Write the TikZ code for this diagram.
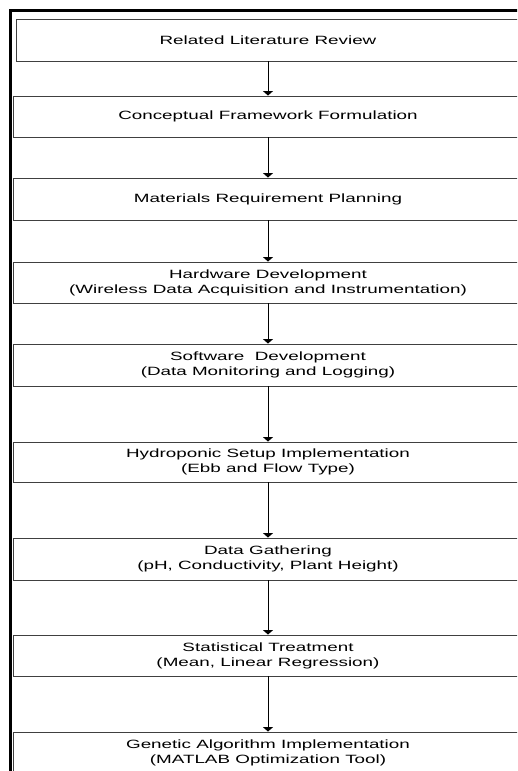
\documentclass[tikz,border=0pt]{standalone}
\usepackage{fontspec}
\newfontfamily\widesans[FakeStretch=1.57]{Liberation Sans}
\usetikzlibrary{arrows.meta}
\tikzset{
  stepbox/.style={draw=black!75, line width=0.9pt, rectangle, inner sep=0pt,
    minimum width=510pt, minimum height=41pt, align=center,
    font=\widesans\fontsize{12}{15}\selectfont},
  flow/.style={draw=black, line width=1pt, -{Triangle[width=10pt,length=4.5pt]}}
}
\begin{document}
\begin{tikzpicture}[x=1pt,y=-1pt]
\useasboundingbox (0,0) rectangle (517,771);
\clip (0,0) rectangle (517,771);
\draw[line width=2.4pt] (10.5,800) -- (10.5,10.5) -- (540,10.5);
\node[stepbox, minimum width=504pt, minimum height=42pt] (b1) at (268,40) {Related Literature Review};
\node[stepbox] (b2) at (268,116.5) {Conceptual Framework Formulation};
\node[stepbox, minimum height=42pt] (b3) at (268,199) {Materials Requirement Planning};
\node[stepbox] (b4) at (268,282.5) {Hardware Development\\(Wireless Data Acquisition and Instrumentation)};
\node[stepbox, minimum height=42pt] (b5) at (268,365) {Software\ \ Development\\(Data Monitoring and Logging)};
\node[stepbox, minimum height=40pt] (b6) at (268,462) {Hydroponic Setup Implementation\\(Ebb and Flow Type)};
\node[stepbox, minimum height=42pt] (b7) at (268,559) {Data Gathering\\(pH, Conductivity, Plant Height)};
\node[stepbox] (b8) at (268,655.5) {Statistical Treatment\\(Mean, Linear Regression)};
\node[stepbox] (b9) at (268,752.5) {Genetic Algorithm Implementation\\(MATLAB Optimization Tool)};
\draw[flow] (b1.south) -- (b2.north);
\draw[flow] (b2.south) -- (b3.north);
\draw[flow] (b3.south) -- (b4.north);
\draw[flow] (b4.south) -- (b5.north);
\draw[flow] (b5.south) -- (b6.north);
\draw[flow] (b6.south) -- (b7.north);
\draw[flow] (b7.south) -- (b8.north);
\draw[flow] (b8.south) -- (b9.north);
\end{tikzpicture}
\end{document}
